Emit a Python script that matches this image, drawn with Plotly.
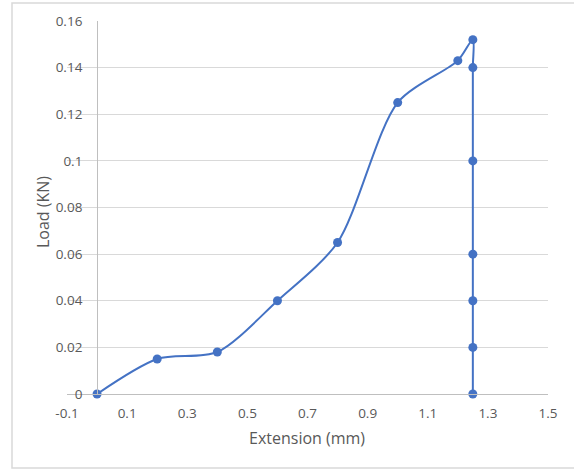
import plotly.graph_objects as go

# Load-extension readings
extension_mm = [0, 0.2, 0.4, 0.6, 0.8, 1.0, 1.2, 1.25, 1.25, 1.25, 1.25, 1.25, 1.25, 1.25]
load_kn = [0, 0.015, 0.018, 0.04, 0.065, 0.125, 0.143, 0.152, 0.14, 0.1, 0.06, 0.04, 0.02, 0]

x_ticks = [-0.1, 0.1, 0.3, 0.5, 0.7, 0.9, 1.1, 1.3, 1.5]
y_ticks = [0, 0.02, 0.04, 0.06, 0.08, 0.1, 0.12, 0.14, 0.16]

BLUE = "#4472C4"
LABEL = "#595959"
FONT = "Open Sans"

W, H = 574, 470
L, R, T, B = 67, 26, 21, 76
plot_w = W - L - R
plot_h = H - T - B

x_min, x_max = -0.1, 1.5

fig = go.Figure()
fig.add_trace(go.Scatter(
    x=extension_mm, y=load_kn,
    mode="lines+markers",
    line=dict(color=BLUE, width=2, shape="spline", smoothing=0.8),
    marker=dict(color=BLUE, size=9),
    cliponaxis=False,
    showlegend=False,
    hoverinfo="x+y",
))

# y axis sits at x = 0, so place it at that fraction of the x range
y_axis_pos = (0 - x_min) / (x_max - x_min)

fig.update_layout(
    width=W, height=H,
    margin=dict(l=L, r=R, t=T, b=B),
    paper_bgcolor="white",
    plot_bgcolor="white",
    font=dict(family=FONT, color=LABEL, size=13),
    xaxis=dict(
        range=[x_min, x_max],
        tickmode="array", tickvals=x_ticks,
        ticktext=[f"{v:g}" for v in x_ticks],
        showgrid=False, zeroline=False,
        showline=True, linecolor="#BFBFBF", linewidth=1,
        ticks="outside", ticklen=7, tickcolor="rgba(0,0,0,0)",
        tickfont=dict(size=13.5, color=LABEL, family=FONT),
    ),
    yaxis=dict(
        range=[0, 0.16],
        tickmode="array", tickvals=y_ticks,
        ticktext=[f"{v:g}" for v in y_ticks],
        anchor="free", position=y_axis_pos,
        showgrid=True, gridcolor="#D9D9D9", gridwidth=1,
        zeroline=False,
        showline=True, linecolor="#BFBFBF", linewidth=1,
        ticks="outside", ticklen=12, tickcolor="rgba(0,0,0,0)",
        tickfont=dict(size=13.5, color=LABEL, family=FONT),
    ),
)

# chart border
fig.add_shape(
    type="rect", xref="paper", yref="paper",
    x0=(12 - L) / plot_w, x1=(W + 2 - L) / plot_w,
    y0=-(468 - (T + plot_h)) / plot_h, y1=1 + (T - 3) / plot_h,
    line=dict(color="#D9D9D9", width=1.5),
    fillcolor="rgba(0,0,0,0)", layer="below",
)

# axis titles
fig.add_annotation(
    text="Extension (mm)", xref="paper", yref="paper",
    x=(307 - L) / plot_w, y=-(438 - (T + plot_h)) / plot_h,
    xanchor="center", yanchor="middle", showarrow=False,
    font=dict(size=16, color=LABEL, family=FONT),
)
fig.add_annotation(
    text="Load (KN)", xref="paper", yref="paper",
    x=(43 - L) / plot_w, y=1 - (212 - T) / plot_h,
    xanchor="center", yanchor="middle", textangle=-90, showarrow=False,
    font=dict(size=16, color=LABEL, family=FONT),
)

fig.write_html("out.html")
